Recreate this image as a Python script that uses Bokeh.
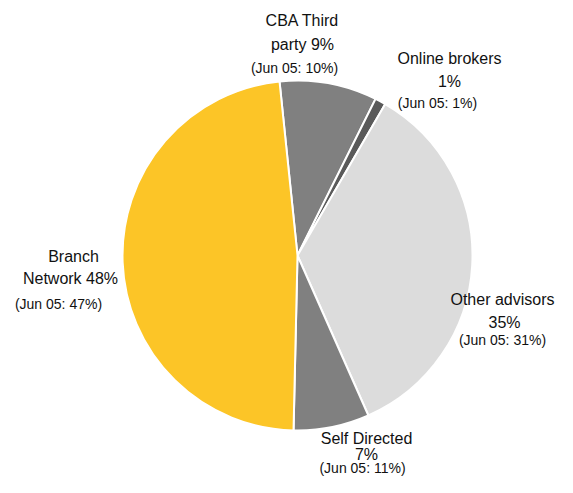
import math
from bokeh.plotting import figure
from bokeh.models import Range1d, ColumnDataSource
from bokeh.core.properties import value
from bokeh.embed import file_html
from bokeh.resources import INLINE

categories = ["CBA Third party", "Online brokers", "Other advisors", "Self Directed", "Branch Network"]
shares = [9, 1, 35, 7, 48]
jun05 = [10, 1, 31, 11, 47]
colors = ["#808080", "#5a5a5a", "#dcdcdc", "#808080", "#fcc527"]

W, H = 557, 477
p = figure(width=W, height=H, output_backend="svg", toolbar_location=None,
           x_range=Range1d(0, W), y_range=Range1d(493 - H, 493),
           min_border=0, outline_line_color=None)
p.axis.visible = False
p.grid.visible = False

cx, cy, r = 297, 493 - 255, 175
offset = -5.9
total = sum(shares)
starts, ends = [], []
cum = offset
for s in shares:
    a0 = cum
    a1 = cum + s / total * 360
    starts.append(math.radians(90 - a0))
    ends.append(math.radians(90 - a1))
    cum = a1
src = ColumnDataSource(dict(start=starts, end=ends, color=colors))
p.wedge(x=cx, y=cy, radius=r, start_angle="start", end_angle="end", direction="clock",
        fill_color="color", line_color="white", line_width=2, source=src)

main_lines = [
    ["CBA Third", f"party {shares[0]}%"],
    ["Online brokers", f"{shares[1]}%"],
    ["Other advisors", f"{shares[2]}%"],
    ["Self Directed", f"{shares[3]}%"],
    ["Branch", f"Network {shares[4]}%"],
]
main_pos = [
    [(302, 20), (302, 44)],
    [(449, 58), (449, 81)],
    [(502, 299), (504, 322)],
    [(366, 438), (366, 454)],
    [(73, 256), (70, 278)],
]
sub_pos = [(294, 67), (437, 102), (502, 339), (362, 467), (58, 303)]

mx, my, mt = [], [], []
for lines, pos in zip(main_lines, main_pos):
    for t, (x, y) in zip(lines, pos):
        mx.append(x); my.append(493 - y); mt.append(t)
p.text(x=mx, y=my, text=mt, text_align="center", text_baseline="middle",
       text_font=value("Liberation Sans"), text_font_size="16px", text_color="#111111")

sx = [x for x, y in sub_pos]
sy = [493 - y for x, y in sub_pos]
st = [f"(Jun 05: {v}%)" for v in jun05]
p.text(x=sx, y=sy, text=st, text_align="center", text_baseline="middle",
       text_font=value("Liberation Sans"), text_font_size="14px", text_color="#111111")

open("out.html", "w").write(file_html(p, INLINE))
